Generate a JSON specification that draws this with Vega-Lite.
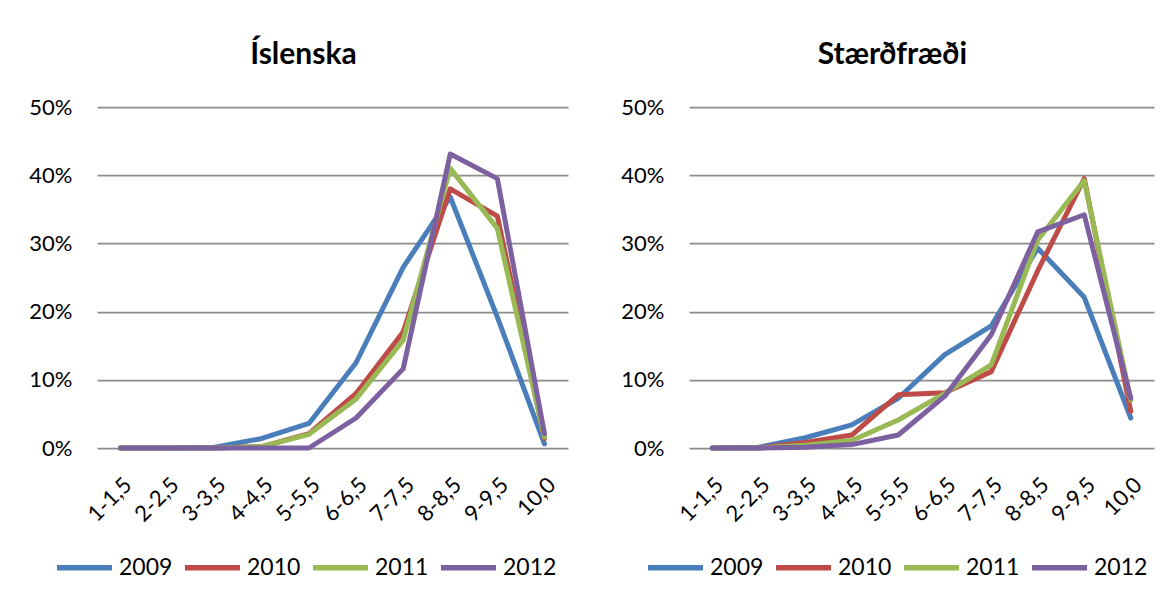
{
  "$schema": "https://vega.github.io/schema/vega-lite/v6.json",
  "background": "white",
  "padding": {"left": 28, "top": 40, "right": 5, "bottom": 5},
  "spacing": 52,
  "datasets": {
    "islenska": [
      {"year": "2009", "range": "1-1,5", "pct": 0.0}, {"year": "2009", "range": "2-2,5", "pct": 0.0}, {"year": "2009", "range": "3-3,5", "pct": 0.001}, {"year": "2009", "range": "4-4,5", "pct": 0.014}, {"year": "2009", "range": "5-5,5", "pct": 0.036}, {"year": "2009", "range": "6-6,5", "pct": 0.125}, {"year": "2009", "range": "7-7,5", "pct": 0.265}, {"year": "2009", "range": "8-8,5", "pct": 0.368}, {"year": "2009", "range": "9-9,5", "pct": 0.192}, {"year": "2009", "range": "10,0", "pct": 0.006},
      {"year": "2010", "range": "1-1,5", "pct": 0.0}, {"year": "2010", "range": "2-2,5", "pct": 0.0}, {"year": "2010", "range": "3-3,5", "pct": 0.0}, {"year": "2010", "range": "4-4,5", "pct": 0.002}, {"year": "2010", "range": "5-5,5", "pct": 0.021}, {"year": "2010", "range": "6-6,5", "pct": 0.080}, {"year": "2010", "range": "7-7,5", "pct": 0.170}, {"year": "2010", "range": "8-8,5", "pct": 0.380}, {"year": "2010", "range": "9-9,5", "pct": 0.340}, {"year": "2010", "range": "10,0", "pct": 0.014},
      {"year": "2011", "range": "1-1,5", "pct": 0.0}, {"year": "2011", "range": "2-2,5", "pct": 0.0}, {"year": "2011", "range": "3-3,5", "pct": 0.0}, {"year": "2011", "range": "4-4,5", "pct": 0.002}, {"year": "2011", "range": "5-5,5", "pct": 0.020}, {"year": "2011", "range": "6-6,5", "pct": 0.072}, {"year": "2011", "range": "7-7,5", "pct": 0.158}, {"year": "2011", "range": "8-8,5", "pct": 0.410}, {"year": "2011", "range": "9-9,5", "pct": 0.322}, {"year": "2011", "range": "10,0", "pct": 0.016},
      {"year": "2012", "range": "1-1,5", "pct": 0.0}, {"year": "2012", "range": "2-2,5", "pct": 0.0}, {"year": "2012", "range": "3-3,5", "pct": 0.0}, {"year": "2012", "range": "4-4,5", "pct": 0.0}, {"year": "2012", "range": "5-5,5", "pct": 0.0}, {"year": "2012", "range": "6-6,5", "pct": 0.044}, {"year": "2012", "range": "7-7,5", "pct": 0.116}, {"year": "2012", "range": "8-8,5", "pct": 0.431}, {"year": "2012", "range": "9-9,5", "pct": 0.395}, {"year": "2012", "range": "10,0", "pct": 0.021}
    ],
    "staerdfraedi": [
      {"year": "2009", "range": "1-1,5", "pct": 0.0}, {"year": "2009", "range": "2-2,5", "pct": 0.001}, {"year": "2009", "range": "3-3,5", "pct": 0.015}, {"year": "2009", "range": "4-4,5", "pct": 0.034}, {"year": "2009", "range": "5-5,5", "pct": 0.073}, {"year": "2009", "range": "6-6,5", "pct": 0.137}, {"year": "2009", "range": "7-7,5", "pct": 0.179}, {"year": "2009", "range": "8-8,5", "pct": 0.293}, {"year": "2009", "range": "9-9,5", "pct": 0.221}, {"year": "2009", "range": "10,0", "pct": 0.044},
      {"year": "2010", "range": "1-1,5", "pct": 0.0}, {"year": "2010", "range": "2-2,5", "pct": 0.0}, {"year": "2010", "range": "3-3,5", "pct": 0.008}, {"year": "2010", "range": "4-4,5", "pct": 0.019}, {"year": "2010", "range": "5-5,5", "pct": 0.078}, {"year": "2010", "range": "6-6,5", "pct": 0.081}, {"year": "2010", "range": "7-7,5", "pct": 0.112}, {"year": "2010", "range": "8-8,5", "pct": 0.260}, {"year": "2010", "range": "9-9,5", "pct": 0.395}, {"year": "2010", "range": "10,0", "pct": 0.054},
      {"year": "2011", "range": "1-1,5", "pct": 0.0}, {"year": "2011", "range": "2-2,5", "pct": 0.0}, {"year": "2011", "range": "3-3,5", "pct": 0.004}, {"year": "2011", "range": "4-4,5", "pct": 0.011}, {"year": "2011", "range": "5-5,5", "pct": 0.041}, {"year": "2011", "range": "6-6,5", "pct": 0.080}, {"year": "2011", "range": "7-7,5", "pct": 0.122}, {"year": "2011", "range": "8-8,5", "pct": 0.305}, {"year": "2011", "range": "9-9,5", "pct": 0.392}, {"year": "2011", "range": "10,0", "pct": 0.070},
      {"year": "2012", "range": "1-1,5", "pct": 0.0}, {"year": "2012", "range": "2-2,5", "pct": 0.0}, {"year": "2012", "range": "3-3,5", "pct": 0.001}, {"year": "2012", "range": "4-4,5", "pct": 0.005}, {"year": "2012", "range": "5-5,5", "pct": 0.019}, {"year": "2012", "range": "6-6,5", "pct": 0.076}, {"year": "2012", "range": "7-7,5", "pct": 0.166}, {"year": "2012", "range": "8-8,5", "pct": 0.317}, {"year": "2012", "range": "9-9,5", "pct": 0.342}, {"year": "2012", "range": "10,0", "pct": 0.073}
    ]
  },
  "hconcat": [
    {
      "data": {"name": "islenska"},
      "width": 471,
      "height": 341,
      "title": {"text": "Íslenska"},
      "mark": {"type": "line", "strokeWidth": 5, "strokeJoin": "round", "strokeCap": "round"},
      "encoding": {
        "x": {"field": "range", "type": "ordinal", "sort": ["1-1,5", "2-2,5", "3-3,5", "4-4,5", "5-5,5", "6-6,5", "7-7,5", "8-8,5", "9-9,5", "10,0"], "axis": {"title": null}},
        "y": {"field": "pct", "type": "quantitative", "scale": {"domain": [0, 0.5]}, "axis": {"title": null, "values": [0, 0.1, 0.2, 0.3, 0.4, 0.5], "format": ".0%"}},
        "color": {
          "field": "year", "type": "nominal",
          "scale": {"domain": ["2009", "2010", "2011", "2012"], "range": ["#4a7ebb", "#be4b48", "#98b954", "#7d60a0"]},
          "legend": {"orient": "none", "legendX": -43, "legendY": 430, "direction": "horizontal", "title": null}
        }
      }
    },
    {
      "data": {"name": "staerdfraedi"},
      "width": 465,
      "height": 341,
      "title": {"text": "Stærðfræði"},
      "mark": {"type": "line", "strokeWidth": 5, "strokeJoin": "round", "strokeCap": "round"},
      "encoding": {
        "x": {"field": "range", "type": "ordinal", "sort": ["1-1,5", "2-2,5", "3-3,5", "4-4,5", "5-5,5", "6-6,5", "7-7,5", "8-8,5", "9-9,5", "10,0"], "axis": {"title": null}},
        "y": {"field": "pct", "type": "quantitative", "scale": {"domain": [0, 0.5]}, "axis": {"title": null, "values": [0, 0.1, 0.2, 0.3, 0.4, 0.5], "format": ".0%"}},
        "color": {
          "field": "year", "type": "nominal",
          "scale": {"domain": ["2009", "2010", "2011", "2012"], "range": ["#4a7ebb", "#be4b48", "#98b954", "#7d60a0"]},
          "legend": {"orient": "none", "legendX": -44, "legendY": 430, "direction": "horizontal", "title": null}
        }
      }
    }
  ],
  "resolve": {"legend": {"color": "independent"}},
  "config": {
    "font": "Lato",
    "view": {"stroke": null},
    "axis": {"labelFont": "Lato", "labelFontSize": 22, "labelColor": "#000000", "ticks": false, "domain": false},
    "axisX": {"grid": false, "labelAngle": -45, "labelPadding": 26},
    "axisY": {"grid": true, "gridColor": "#8c8c8c", "gridWidth": 1.75, "labelPadding": 25},
    "legend": {"symbolType": "stroke", "symbolSize": 3025, "symbolStrokeWidth": 5.5, "labelFont": "Lato", "labelFontSize": 23, "labelColor": "#000000", "labelOffset": 4, "columnPadding": 1, "padding": 0},
    "title": {"font": "Lato", "fontSize": 30, "fontWeight": "bold", "color": "#000000", "anchor": "middle", "frame": "bounds", "baseline": "alphabetic", "offset": 26, "dx": 5}
  }
}
